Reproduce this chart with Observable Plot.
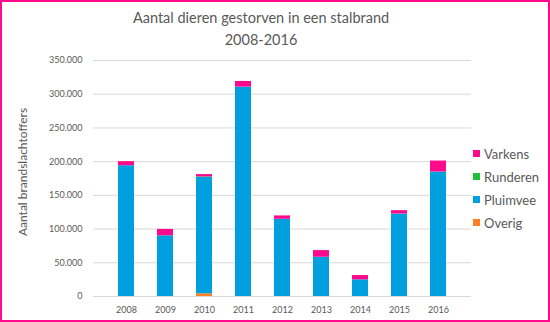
<!DOCTYPE html>
<html>
<head>
<meta charset="utf-8">
<script src="https://cdn.jsdelivr.net/npm/d3@7"></script>
<script src="https://cdn.jsdelivr.net/npm/@observablehq/plot@0.6"></script>
<style>
  html, body { margin: 0; padding: 0; background: #fff; }
  #wrap { position: relative; width: 550px; height: 322px; overflow: hidden; font-family: Lato, "Open Sans", sans-serif; color: #595959; }
  #frame { position: absolute; left: 0; top: 0; width: 550px; height: 322px; box-sizing: border-box; border: 2px solid #FF0A8C; pointer-events: none; }
  .title { position: absolute; left: 0; width: 522px; text-align: center; font-size: 14.5px; color: #595959; }
  #ytitle { position: absolute; left: 22px; top: 172px; transform: translate(-50%, -50%) rotate(-90deg); white-space: nowrap; font-size: 12px; color: #595959; }
  #legend { position: absolute; left: 473px; top: 142px; font-size: 13px; color: #595959; }
  #legend .row { display: flex; align-items: center; height: 23px; }
  #legend .sw { width: 7px; height: 7px; margin-right: 4px; }
</style>
</head>
<body>
<div id="wrap">
  <div class="title" style="top:9px">Aantal dieren gestorven in een stalbrand</div>
  <div class="title" style="top:31px">2008-2016</div>
  <div id="ytitle">Aantal brandslachtoffers</div>
  <div id="chart"></div>
  <div id="legend"></div>
  <div id="frame"></div>
</div>
<script>
const years = ["2008","2009","2010","2011","2012","2013","2014","2015","2016"];
const overig   = [0, 0, 4000, 0, 0, 0, 0, 0, 0];
const pluimvee = [194000, 90000, 172500, 310500, 114500, 58200, 24700, 122400, 184600];
const runderen = [0, 0, 800, 0, 0, 0, 0, 0, 0];
const varkens  = [6000, 9500, 3500, 8400, 5000, 9900, 6400, 4900, 16300];
const seriesNames = ["Overig", "Pluimvee", "Runderen", "Varkens"];
const seriesColors = ["#FF7F27", "#009FDF", "#22C03A", "#FF0A8C"];
const yTicks = [0, 50000, 100000, 150000, 200000, 250000, 300000, 350000];

const seriesValues = {Overig: overig, Pluimvee: pluimvee, Runderen: runderen, Varkens: varkens};
const data = [];
for (const s of seriesNames) {
  years.forEach((y, i) => data.push({year: y, type: s, value: seriesValues[s][i]}));
}

const nl = d3.formatLocale({decimal: ",", thousands: ".", grouping: [3], currency: ["€", ""]});
const fmt = nl.format(",");

const chart = Plot.plot({
  width: 550,
  height: 322,
  marginLeft: 93,
  marginRight: 79,
  marginTop: 60,
  marginBottom: 26,
  style: {fontFamily: "Lato, 'Open Sans', sans-serif", fontSize: "9px", color: "#595959", background: "transparent"},
  x: {domain: years, padding: 0.585, label: null, tickSize: 0, tickPadding: 10},
  y: {domain: [0, 350000], ticks: yTicks, tickFormat: fmt, label: null, tickSize: 0, tickPadding: 11},
  color: {domain: seriesNames, range: seriesColors},
  marks: [
    Plot.gridY(yTicks, {stroke: "#D9D9D9", strokeOpacity: 1, strokeWidth: 1}),
    Plot.barY(data, {x: "year", y: "value", fill: "type", z: "type", order: seriesNames}),
    Plot.axisX({tickSize: 0, tickPadding: 10, fill: "#595959"}),
    Plot.axisY({ticks: yTicks, tickFormat: fmt, tickSize: 0, tickPadding: 11, fill: "#595959"})
  ]
});
document.getElementById("chart").appendChild(chart);

const legend = document.getElementById("legend");
const legendOrder = ["Varkens", "Runderen", "Pluimvee", "Overig"];
for (const s of legendOrder) {
  const row = document.createElement("div");
  row.className = "row";
  const sw = document.createElement("div");
  sw.className = "sw";
  sw.style.background = seriesColors[seriesNames.indexOf(s)];
  const lab = document.createElement("span");
  lab.textContent = s;
  row.appendChild(sw);
  row.appendChild(lab);
  legend.appendChild(row);
}
</script>
</body>
</html>
